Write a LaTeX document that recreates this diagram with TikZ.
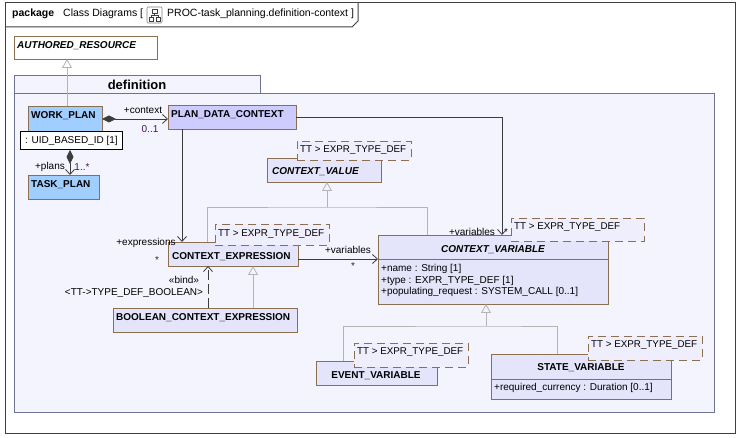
\documentclass[tikz,border=0pt]{standalone}
\usepackage{fontspec}
\setmainfont{Liberation Sans}
\usetikzlibrary{arrows.meta,calc}
\definecolor{brd}{RGB}{140,110,80}
\definecolor{clsfill}{RGB}{228,228,250}
\definecolor{tmplfill}{RGB}{238,238,252}
\definecolor{pdcfill}{RGB}{206,204,255}
\definecolor{bluefill}{RGB}{160,206,255}
\definecolor{pkgfill}{RGB}{244,244,255}
\definecolor{pkgc}{RGB}{110,115,150}
\definecolor{framec}{RGB}{64,64,64}
\definecolor{linec}{RGB}{60,60,60}
\definecolor{genc}{RGB}{180,180,180}
\definecolor{multc}{RGB}{70,20,80}
\begin{document}
\begin{tikzpicture}[x=1pt,y=-1pt,
  every node/.style={font=\fontsize{10}{12}\selectfont},
  box/.style={draw=brd, fill=clsfill, anchor=north west, inner sep=0pt, outer sep=0pt, line width=0.9pt},
  tmpl/.style={draw=brd, fill=tmplfill, dash pattern=on 8pt off 5pt, anchor=north west, inner sep=0pt, outer sep=0pt, line width=0.9pt},
  ttext/.style={inner sep=0pt, anchor=west, font=\fontsize{9.8}{12}\selectfont},
  cname/.style={font=\fontsize{10}{12}\selectfont\bfseries, inner sep=0pt},
  aname/.style={font=\fontsize{10}{12}\selectfont\bfseries\itshape, inner sep=0pt},
  lbl/.style={inner sep=0pt},
  mult/.style={inner sep=0pt, text=multc},
  assoc/.style={draw=linec, line width=0.8pt, -{Straight Barb[length=5pt,width=9pt,line width=0.8pt]}},
  comp/.style={draw=linec, line width=0.8pt, {Diamond[length=14pt,width=7pt,fill=linec]}-{Straight Barb[length=5pt,width=9pt,line width=0.8pt]}},
  gen/.style={draw=genc, line width=0.8pt},
  genarrow/.style={draw=genc, line width=0.8pt, -{Triangle[open,length=9pt,width=10pt]}},
]
\useasboundingbox (0,0) rectangle (739,438);
\fill[white] (0,0) rectangle (739,438);

% outer frame
\draw[framec, line width=1pt] (5,3) rectangle (735,433);
\draw[framec, line width=1pt] (5,27) -- (352,27) -- (358,21) -- (358,3);
\node[lbl, anchor=west, font=\fontsize{10.5}{12}\selectfont\bfseries] (hdr1) at (12,14) {package};
\node[lbl, anchor=west, font=\fontsize{10.5}{12}\selectfont] (hdr2) at (63,14) {Class Diagrams [};
\node[lbl, anchor=west, font=\fontsize{10.5}{12}\selectfont] (hdr3) at (167,14) {PROC-task\_planning.definition-context ]};
% icon
\draw[gray, line width=0.6pt, rounded corners=1pt] (147,7) rectangle (162,23);
\draw[framec, line width=0.6pt] (152,9.5) rectangle (157,13.5);
\draw[framec, line width=0.6pt] (149,17.5) rectangle (153,21.5);
\draw[framec, line width=0.6pt] (156,17.5) rectangle (160,21.5);
\draw[framec, line width=0.5pt] (154.5,13.5) -- (154.5,15.5) (151,15.5) -- (158,15.5) (151,15.5) -- (151,17.5) (158,15.5) -- (158,17.5);

% authored resource
\node[box, fill=white, minimum width=143pt, minimum height=23pt] (ar) at (14,36) {};
\node[aname, anchor=west] (arN) at (17,46) {AUTHORED\_RESOURCE};

% package definition
\draw[pkgc, fill=pkgfill, line width=0.9pt] (14,75) rectangle (260,93);
\draw[pkgc, fill=pkgfill, line width=0.9pt] (14,93) rectangle (714,412);
\node[lbl, font=\fontsize{13}{15}\selectfont\bfseries] (defN) at (137,85) {definition};

% classes
\node[box, fill=bluefill, minimum width=74pt, minimum height=26pt] (wp) at (28,106) {};
\node[cname, anchor=west] (wpN) at (31,116) {WORK\_PLAN};
\node[draw=black, fill=white, anchor=north west, minimum width=102pt, minimum height=18pt, inner sep=0pt, line width=0.9pt] (uid) at (20,131) {: UID\_BASED\_ID [1]};
\node[box, fill=bluefill, minimum width=71pt, minimum height=24pt] (tp) at (28,175) {};
\node[cname, anchor=west] (tpN) at (31,185) {TASK\_PLAN};

\node[box, fill=pdcfill, minimum width=128pt, minimum height=24pt] (pdc) at (168,105) {};
\node[cname, anchor=west] (pdcN) at (171,115) {PLAN\_DATA\_CONTEXT};

\node[box, minimum width=114pt, minimum height=24pt] (cv) at (267,158) {};
\node[aname, anchor=west] (cvN) at (272,172) {CONTEXT\_VALUE};
\node[tmpl, minimum width=114pt, minimum height=19pt] (cvT) at (297,141) {};
\node[ttext] (cvTt) at (300,150.5) {TT > EXPR\_TYPE\_DEF};

\node[box, minimum width=130pt, minimum height=24pt] (ce) at (168,242) {};
\node[cname, anchor=west] (ceN) at (172,257) {CONTEXT\_EXPRESSION};
\node[tmpl, minimum width=114pt, minimum height=21pt] (ceT) at (215,224) {};
\node[ttext] (ceTt) at (218,234) {TT > EXPR\_TYPE\_DEF};

\node[box, minimum width=230pt, minimum height=69pt] (cvar) at (378,235) {};
\draw[brd, line width=0.9pt] ([yshift=-24pt]cvar.north west) -- ([yshift=-24pt]cvar.north east);
\node[aname] (cvarN) at (493,250) {CONTEXT\_VARIABLE};
\node[lbl, anchor=west] (cvarA1) at (381,269) {+name : String [1]};
\node[lbl, anchor=west] (cvarA2) at (381,280.5) {+type : EXPR\_TYPE\_DEF [1]};
\node[lbl, anchor=west] (cvarA3) at (381,292) {+populating\_request : SYSTEM\_CALL [0..1]};
\node[tmpl, minimum width=133pt, minimum height=23pt] (cvarT) at (511,218) {};
\node[ttext] (cvarTt) at (514,227) {TT > EXPR\_TYPE\_DEF};

\node[box, minimum width=184pt, minimum height=24pt] (bce) at (113,308) {};
\node[cname, anchor=west] (bceN) at (116,318) {BOOLEAN\_CONTEXT\_EXPRESSION};

\node[box, minimum width=121pt, minimum height=24pt] (ev) at (316,361) {};
\node[cname] (evN) at (376,376) {EVENT\_VARIABLE};
\node[tmpl, minimum width=114pt, minimum height=24pt] (evT) at (354,343) {};
\node[ttext] (evTt) at (357,352) {TT > EXPR\_TYPE\_DEF};

\node[box, minimum width=180pt, minimum height=45pt] (sv) at (491,354) {};
\draw[brd, line width=0.9pt] ([yshift=-25pt]sv.north west) -- ([yshift=-25pt]sv.north east);
\node[cname] (svN) at (581,368) {STATE\_VARIABLE};
\node[lbl, anchor=west] (svA1) at (494,388) {+required\_currency : Duration [0..1]};
\node[tmpl, minimum width=114pt, minimum height=24pt] (svT) at (588,336) {};
\node[ttext] (svTt) at (591,345) {TT > EXPR\_TYPE\_DEF};

% generalization WORK_PLAN -> AUTHORED_RESOURCE
\draw[genarrow] ([xshift=39pt]wp.north west) -- ([xshift=53pt]ar.south west);

% compositions
\draw[comp] (wp.east) -- (wp.east -| pdc.west);
\draw[comp] ([xshift=42pt]tp.north west |- uid.south) -- ([xshift=42pt]tp.north west);
\node[lbl] (ctxL) at (143,110) {+context};
\node[mult] (ctxM) at (150,129) {0..1};
\node[lbl] (plL) at (50,167) {+plans};
\node[mult] (plM) at (82,167) {1..*};

% associations
\draw[assoc] ([xshift=14pt]pdc.south west) -- ([xshift=14pt]ce.north west);
\node[lbl] (exL) at (146,243) {+expressions};
\node[mult] (exM) at (157,260) {*};
\draw[assoc] (pdc.east) -| ([xshift=124pt]cvar.north west);
\node[lbl] (v1L) at (472,232) {+variables};
\node[mult] (v1M) at (506,232) {*};
\draw[assoc] ([yshift=-5pt]ce.east) -- ([yshift=-5pt]ce.east -| cvar.west);
\node[lbl] (v2L) at (348,250) {+variables};
\node[mult] (v2M) at (353,266) {*};

% generalizations to CONTEXT_VALUE
\coordinate (cvj) at (327,207);
\draw[gen] ([xshift=39pt]ce.north west) |- (cvj) -| ([xshift=49pt]cvar.north west);
\draw[genarrow] (cvj) -- ([xshift=60pt]cv.south west);

% BOOLEAN -> CONTEXT_EXPRESSION
\draw[genarrow] ([xshift=140pt]bce.north west) -- ([xshift=85pt]ce.south west);
\draw[draw=linec, line width=0.8pt, dash pattern=on 10pt off 4pt, -{Straight Barb[length=5pt,width=9pt,line width=0.8pt]}] ([xshift=95pt]bce.north west) -- ([xshift=40pt]ce.south west);
\node[lbl] (bindL) at (184,280) {«bind»};
\node[lbl] (bindT) at (134,293) {<TT->TYPE\_DEF\_BOOLEAN>};

% generalizations to CONTEXT_VARIABLE
\coordinate (cvarj) at (486,326);
\draw[gen] ([xshift=27pt]ev.north west) |- (cvarj) -| ([xshift=66pt]sv.north west);
\draw[genarrow] (cvarj) -- ([xshift=108pt]cvar.south west);
\end{tikzpicture}
\end{document}
